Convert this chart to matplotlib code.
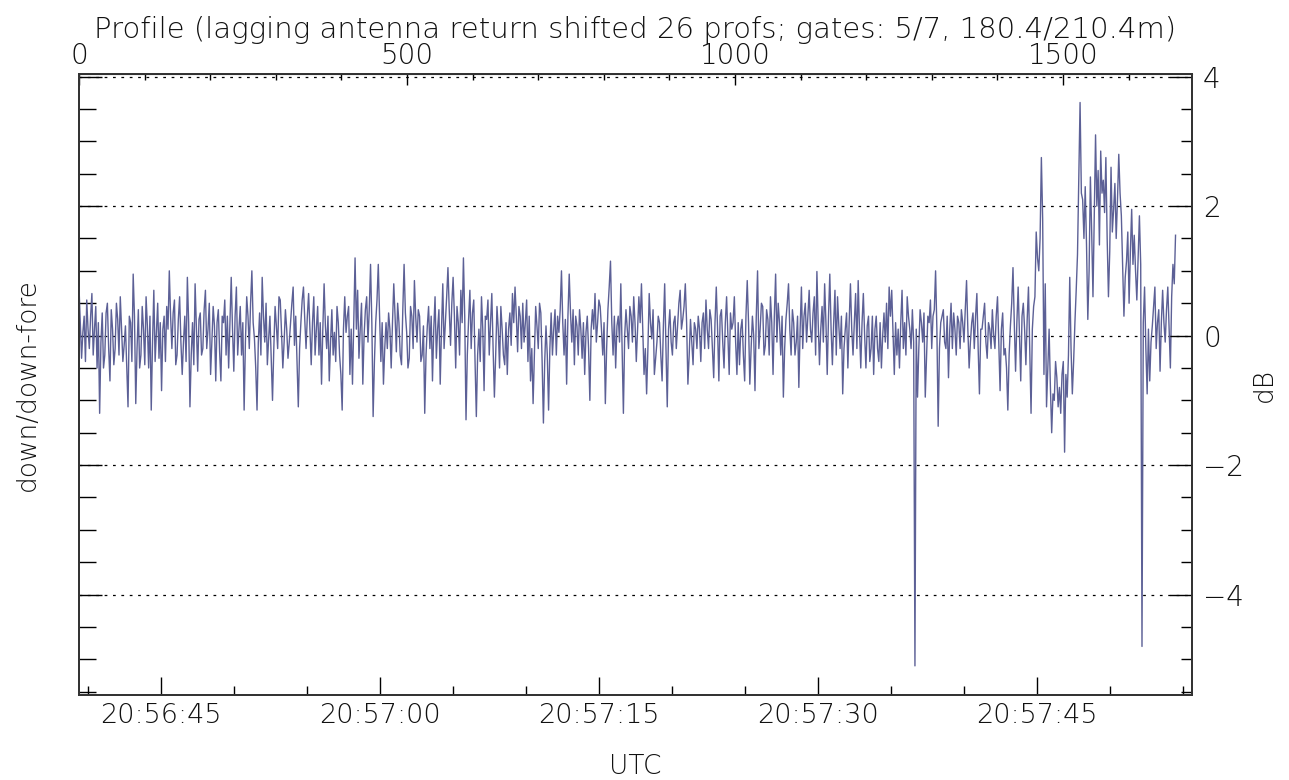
import numpy as np
import matplotlib
matplotlib.use("Agg")
import matplotlib.pyplot as plt
from matplotlib.ticker import MultipleLocator, FuncFormatter, FixedLocator

# ---- data ----
# samples at every ~8th profile
values = [
    0.75, -0.35, 0.3, 0.55, -0.2, 0.65, 0.1, -0.5, -1.2, 0.35, -0.3, 0.5, -0.7, 0.1, -0.2, 0.25, 0.6, -0.4, 0.15, -1.1,
    0.2, 0.95, -1.05, 0.4, -0.3, 0.1, 0.6, -0.5, -1.15, 0.7, 0.05, -0.35, -0.85, 0.3, 0.45, 1.0, -0.2, 0.55, -0.3, 0.6,
    -0.6, 0.3, 0.9, -1.1, 0.2, 0.8, -0.55, 0.35, -0.2, 0.7, 0.1, -0.6, 0.45, -0.7, 0.4, -0.7, 0.2, -0.3, -0.5, 0.9,
    -0.55, 0.75, 0.1, -0.3, -1.15, 0.6, -0.2, 1.0, -0.05, -1.15, 0.35, 0.9, -0.1, -0.45, 0.3, -1.0, 0.45, -0.2, 0.55, -0.5,
    0.4, -0.35, 0.2, 0.75, 0.3, -1.1, 0.2, 0.75, -0.2, 0.65, -0.45, 0.6, 0.1, -0.3, -0.75, 0.8, -0.2, -0.7, 0.4, 0.05,
    0.45, -0.3, -1.15, 0.6, 0.3, -0.6, -0.75, 1.2, 0.7, 0.1, -0.75, 0.4, -0.1, 1.1, -1.25, 0.2, 1.1, -0.4, -0.75, 0.2,
    0.35, -0.5, 0.8, -0.25, 0.2, -0.45, 1.1, 0.05, -0.35, 0.3, 0.85, -0.1, 0.3, -0.3, -1.2, 0.15, -0.2, -0.7, 0.6, 0.1,
    -0.75, 0.8, 0.2, 1.05, -0.15, 0.9, -0.5, 0.2, 0.7, 1.2, -1.3, 0.25, -0.2, 0.55, -1.25, 0.1, 0.6, -0.85, 0.25, -0.3,
    0.65, -0.95, 0.45, -0.5, 0.1, -0.45, -0.6, 0.35, 0.65, 0.75, -0.25, 0.3, 0.5, 0.2, -0.4, -0.7, -1.05, 0.45, -0.2, 0.35,
    -1.35, 0.15, -1.15, 0.35, 0.1, -0.3, 0.05, 1.0, -0.3, -0.75, 0.95, -0.1, -0.45, 0.15, 0.4, -0.35, -0.6, 0.3, -1.0, 0.4,
    0.65, 0.2, 0.45, -0.3, -1.05, 0.4, 1.15, -0.3, -0.5, 0.3, 0.8, -1.2, 0.4, -0.2, 0.3, 0.6, -0.4, 0.6, 0.8, -0.6,
    -0.9, 0.65, -0.05, -0.6, -0.1, 0.2, -0.7, 0.8, -1.1, 0.4, -0.3, 0.3, 0.15, 0.7, 0.25, 0.8, -0.75, 0.25, -0.45, 0.1,
    0.3, -0.4, 0.35, 0.55, -0.2, 0.25, -0.65, 0.75, -0.7, 0.4, -0.5, 0.6, -0.6, 0.1, 0.6, -0.6, -0.45, 0.25, -0.7, 0.85,
    -0.75, 0.3, -0.85, 1.0, 0.1, 0.45, -0.15, 0.25, 0.6, -0.6, 0.95, 0.5, -0.3, -0.95, 0.25, 0.8, -0.3, 0.2, -0.1, -0.8,
    0.75, 0.3, -0.1, 0.7, -0.1, 0.6, 0.99, -0.45, 0.45, 0.8, -0.6, 0.95, -0.45, 0.7, 0.6, -0.2, -0.9, 0.1, -0.5, 0.8,
    -0.3, 0.65, 0.85, -0.5, 0.65, -0.5, 0.3, -0.2, -0.6, 0.3, -0.4, -0.5, 0.35, 0.5, 0.75, 0.7, -0.6, -0.3, -0.5, 0.7,
    0.2, 0.6, 0.1, 0.4, -5.1, -0.95, 0.4, -0.1, -0.95, 0.3, 0.55, 0.3, 1.0, -1.4, 0.2, 0.4, -0.2, -0.65, 0.5, 0.35,
    -0.3, 0.2, 0.4, -0.1, 0.85, -0.5, 0.2, -0.2, 0.65, -0.9, 0.1, 0.5, -0.35, 0.1, 0.4, -0.2, 0.6, -0.85, 0.35, -0.2,
    -1.15, 0.15, 1.05, -0.55, 0.75, -0.7, 0.5, -0.45, 0.75, -1.2, 0.45, 1.6, 1.0, 2.75, -0.6, -1.1, 0.1, -1.5, -1.0, -0.65,
    -0.8, -0.6, -1.8, -0.95, 0.9, -0.9, 0.2, 1.25, 3.6, 2.1, 2.3, 0.25, 2.45, 0.6, 3.1, 2.55, 2.85, 2.4, 2.75, 0.6,
    2.6, 1.95, 1.5, 2.8, 1.85, 0.3, 1.15, 0.5, 1.95, 1.55, 0.55, 1.85, -4.8, 0.75, -0.9, -0.7, 0.15, 0.75, 0.2, -0.55,
    0.7, -0.1, 0.75, -0.5, 1.1, 1.55,
]
# samples lying half-way between the ones above
values_between = [
    0.2, 0.05, -0.4, 0.1, 0.3, -0.3, 0.45, 0.2, -0.1, -0.5, 0.35, -0.2, 0.4, -0.45, 0.5, -0.3, 0.1, -0.15, -0.5, 0.3,
    -0.4, 0.3, -0.2, -0.5, 0.45, -0.45, 0.15, 0.3, -0.1, -0.4, 0.5, 0.2, 0.1, -0.4, 0.1, 0.3, 0.35, -0.45, 0.25, -0.1,
    -0.1, -0.4, 0.2, -0.3, -0.45, 0.1, 0.25, -0.3, 0.4, -0.2, 0.5, -0.1, 0.15, 0.2, -0.25, 0.3, 0.55, 0.3, 0.2, 0.1,
    0.3, -0.3, 0.45, 0.2, -0.1, 0.3, 0.5, 0.2, -0.5, -0.1, -0.3, 0.3, 0.5, -0.05, -0.35, -0.2, 0.15, 0.6, 0.05, -0.1,
    0.1, -0.1, 0.5, -0.15, -0.4, -0.2, 0.55, 0.25, 0.3, 0.1, 0.2, -0.3, 0.45, 0.2, 0.1, 0.15, 0.3, -0.1, -0.3, -0.4,
    0.2, -0.6, 0.1, 0.05, 0.45, 0.1, 0.2, 0.1, -0.35, 0.5, 0.0, 0.6, 0.4, 0.2, -0.4, 0.55, 0.3, 0.2, -0.2, -0.2,
    0.1, 0.2, 0.3, 0.5, -0.3, 0.4, 0.35, -0.5, 0.45, -0.2, 0.3, 0.4, -0.4, 0.15, -0.3, 0.45, 0.3, 0.1, -0.35, 0.4,
    0.1, -0.2, 0.6, 0.4, 0.5, 0.3, 0.45, -0.3, 0.2, 0.3, -0.3, 0.7, 0.35, -0.4, -0.3, -0.4, 0.1, 0.3, 0.55, 0.2,
    -0.2, -0.3, 0.1, 0.45, -0.3, 0.2, 0.1, -0.15, 0.2, 0.3, 0.45, -0.2, -0.1, 0.55, 0.3, -0.2, -0.3, 0.15, 0.5, -0.4,
    -0.4, -0.3, -0.2, -0.3, 0.4, 0.3, 0.4, 0.2, 0.25, 0.3, 0.35, 0.4, 0.3, -0.3, 0.1, 0.2, 0.05, -0.2, 0.1, 0.1,
    -0.1, 0.55, 0.1, 0.2, -0.2, 0.75, 0.2, 0.3, 0.15, -0.1, -0.2, 0.0, 0.1, 0.45, -0.1, 0.2, 0.1, 0.2, 0.1, -0.2,
    -0.2, 0.2, 0.4, -0.35, 0.3, -0.3, 0.15, -0.2, 0.1, -0.1, 0.2, -0.2, 0.5, 0.1, 0.45, 0.2, -0.3, -0.1, 0.2, -0.2,
    0.1, 0.2, -0.2, 0.1, 0.4, -0.2, 0.2, 0.1, 0.3, -0.1, 0.2, 0.0, 0.35, 0.2, -0.1, 0.2, 0.1, -0.3, 0.3, 0.2,
    -0.2, 0.0, 0.3, -0.2, 0.5, -0.3, 0.4, -0.3, 0.2, 0.3, -0.1, 0.2, 0.3, -0.2, 0.5, 0.1, 0.4, -0.3, 0.3, 0.1,
    -0.2, 0.5, 0.3, 0.1, 0.35, -0.3, 0.2, 0.1, -0.1, 0.2, 0.3, 0.1, 0.2, -0.3, 0.15, 0.3, -0.2, 0.35, 0.2, 0.1,
    0.2, -0.2, 0.1, 0.2, 0.0, 0.15, -0.4, 0.3, 0.1, -0.2, 0.2, 0.0, -0.1, -0.2, 0.3, 0.05, 0.2, 0.1, 0.2, -0.2,
    -0.3, 0.3, -0.2, -0.1, 0.1, -0.2, 0.2, 0.35, -0.3, 0.2, -0.2, 0.4, 0.1, -0.2, 0.3, -0.1, 0.3, 0.1, -0.2, 0.1,
    0.3, -0.2, 0.2, 0.4, 0.1, -0.1, 0.35, 0.3, -0.2, 0.1, 0.3, -0.1, 0.2, -0.2, 0.0, 0.3, -0.1, 0.1, -0.3, -0.5,
    -0.3, 0.5, 0.2, 0.2, 0.0, 0.3, 0.1, 0.25, -0.2, 0.1, 0.6, 1.2, 1.5, 1.8, 0.8, -0.5, -0.8, -0.9, -0.4, -1.1,
    -1.2, -0.4, -0.6, -0.3, -0.2, -0.4, 0.7, 2.4, 2.2, 1.5, 1.4, 1.0, 1.6, 1.8, 2.0, 1.4, 2.2, 1.9, 1.5, 1.3,
    1.6, 2.35, 2.1, 2.2, 1.1, 0.9, 1.6, 1.3, 1.1, 1.0, 1.2, 1.1, 0.2, -0.2, 0.1, -0.1, 0.45, -0.2, 0.4, 0.2,
    0.2, 0.4, 0.1, 0.6, 0.8,
]
first_profile = 0.0
last_profile = 1671.5

# axis calibration (seconds after 20:56:00 at profile 0, seconds per profile)
t_start = 39.384
sec_per_profile = 0.04493
profile_max = 1696.6

y_range = (-5.55, 4.04)
y_grid = [-4, -2, 0, 2, 4]
y_labels = [4, 2, 0, -2, -4]
time_major = [45, 60, 75, 90, 105]
profile_major = [0, 500, 1000, 1500]

title = "Profile (lagging antenna return shifted 26 profs; gates: 5/7, 180.4/210.4m)"

# ---- figure ----
plt.rcParams['font.family'] = ['DejaVu Sans']
plt.rcParams['font.weight'] = 200
plt.rcParams['axes.labelweight'] = 200
TXT = '#111111'

fig = plt.figure(figsize=(12.89, 7.80), dpi=100)
ax = fig.add_axes([79/1289, 1 - 695/780, (1192-79)/1289, (695-74)/780])

series = np.empty(len(values) + len(values_between))
series[0::2] = values
series[1::2] = values_between
profiles = np.linspace(first_profile, last_profile, len(series))
times = t_start + profiles * sec_per_profile
ax.plot(times, series, color='#5c6096', lw=1.0, zorder=3)

ax.set_xlim(t_start, t_start + profile_max * sec_per_profile)
ax.set_ylim(*y_range)

for g in y_grid:
    ax.axhline(g, color='black', lw=0.9, linestyle=(0, (2.2, 4.5)), zorder=2)

for s in ax.spines.values():
    s.set_linewidth(1.3)
    s.set_color('#333333')

# bottom time axis
def fmt_time(s, _):
    s = int(round(s))
    return f"20:{56 + s // 60:02d}:{s % 60:02d}"

ax.xaxis.set_major_locator(FixedLocator(time_major))
ax.xaxis.set_minor_locator(MultipleLocator(5))
ax.xaxis.set_major_formatter(FuncFormatter(fmt_time))
ax.tick_params(axis='x', which='major', direction='in', length=13, width=1.0,
               labelsize=19.5, labelcolor=TXT, pad=5.5, top=False)
ax.tick_params(axis='x', which='minor', direction='in', length=6.5, width=1.0, top=False)
ax.set_xlabel('UTC', fontsize=19, color=TXT, labelpad=19)

# left y axis: ticks only
ax.yaxis.set_major_locator(MultipleLocator(2))
ax.yaxis.set_minor_locator(MultipleLocator(0.5))
ax.tick_params(axis='y', which='major', direction='in', length=16.5, width=1.0,
               labelleft=False, right=False)
ax.tick_params(axis='y', which='minor', direction='in', length=12, width=1.0, right=False)
ax.set_ylabel('down/down-fore', fontsize=19, color=TXT, labelpad=28)

# right y axis
ax2 = ax.twinx()
ax2.set_ylim(*y_range)
ax2.yaxis.set_major_locator(FixedLocator(y_labels))
ax2.yaxis.set_minor_locator(MultipleLocator(0.5))
ax2.tick_params(axis='y', which='major', direction='in', length=16, width=1.0,
                labelsize=20, labelcolor=TXT, pad=8)
ax2.tick_params(axis='y', which='minor', direction='in', length=8, width=1.0)
ax2.set_ylabel('dB', fontsize=19, color=TXT, labelpad=5.5)
for s in ax2.spines.values():
    s.set_linewidth(1.3)
    s.set_color('#333333')

# top profile axis
top = ax.secondary_xaxis('top', functions=(lambda t: (t - t_start) / sec_per_profile,
                                           lambda p: t_start + p * sec_per_profile))
top.xaxis.set_major_locator(FixedLocator(profile_major))
top.xaxis.set_minor_locator(MultipleLocator(100))
top.tick_params(axis='x', which='major', direction='in', length=8, width=1.0,
                labelsize=20, labelcolor=TXT, pad=3)
top.tick_params(axis='x', which='minor', direction='in', length=4, width=1.0)
top.set_xlabel(title, fontsize=21, color=TXT, labelpad=3)

fig.savefig('out.png', dpi=100)
